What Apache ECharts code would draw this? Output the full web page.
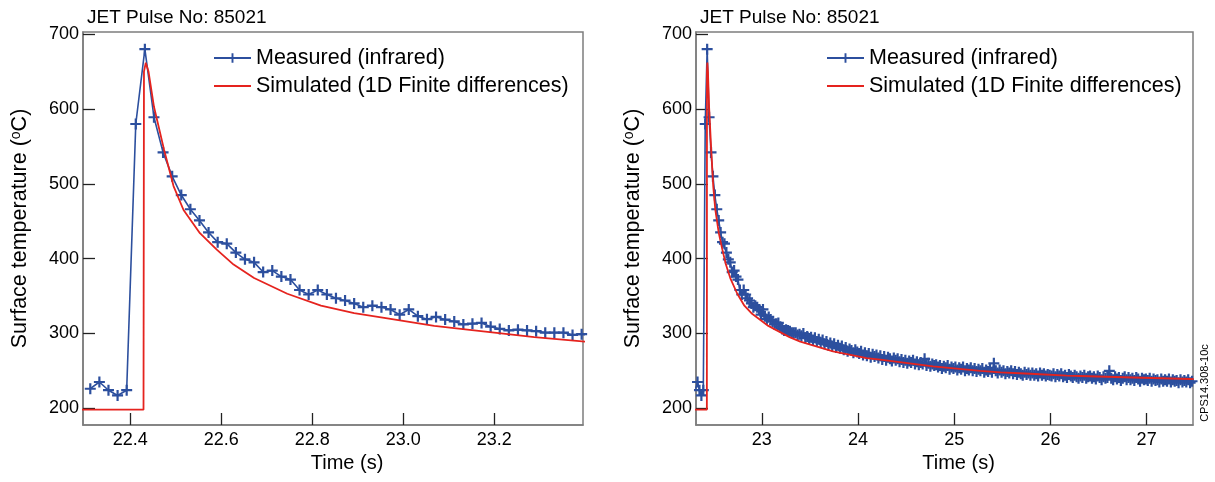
<!DOCTYPE html>
<html>
<head>
<meta charset="utf-8">
<script src="https://cdn.jsdelivr.net/npm/echarts@6/dist/echarts.min.js"></script>
<style>
  html, body { margin: 0; background: #fff; }
  #chart { width: 1215px; height: 482px; }
</style>
</head>
<body>
<div id="chart"></div>
<script>
// infrared samples, one every 20 ms from t0
const t0 = 22.312;
const dt = 0.02;
const measuredTemp = [
  226, 235, 224, 217, 224, 580, 680, 589, 542, 510,
  485, 466, 451, 435, 422, 420, 408, 399, 395, 382,
  384, 376, 372, 358, 352, 358, 352, 347, 344, 340,
  335, 337, 335, 332, 325, 332, 323, 319, 322, 318.5,
  316, 312, 313, 314, 309, 306, 304, 305, 304, 303,
  301, 301, 301, 298, 299,
  // past the left panel, only on the right one
  297, 300, 294, 296, 293, 295, 291, 294, 289, 292,
  288, 291, 286, 289, 284, 287, 283, 286, 281, 284,
  280, 283, 278, 281, 276, 279, 277, 274, 278, 275,
  273, 276, 271, 274, 270, 273, 268, 272, 269, 271,
  267, 270, 265, 269, 264, 268, 266, 263, 267, 264,
  266, 262, 265, 261, 264, 260, 263, 261, 264, 259,
  262, 258, 261, 259, 266, 257, 260, 256, 259, 257,
  258, 255, 257, 253, 256, 254, 257, 252, 255, 253,
  255, 251, 254, 252, 255, 250, 253, 251, 254, 250,
  253, 249, 252, 250, 253, 248, 251, 249, 252, 248,
  260, 250, 247, 251, 248, 250, 246, 249, 247, 250,
  246, 249, 245, 248, 246, 244, 248, 245, 247, 244,
  247, 244, 246, 243, 247, 244, 246, 243, 245, 244,
  243, 246, 242, 245, 243, 246, 242, 244, 241, 245,
  243, 241, 244, 242, 240, 243, 241, 244, 240, 242,
  243, 240, 242, 239, 243, 241, 238, 242, 240, 241,
  250, 240, 238, 242, 239, 241, 237, 240, 242, 238,
  241, 238, 240, 237, 241, 239, 236, 240, 238, 239,
  237, 240, 236, 239, 237, 238, 235, 239, 236, 238,
  236, 239, 235, 238, 236, 237, 234, 238, 235, 237,
  235, 238, 234, 236
];

// 1D finite differences result
const simTime = [22.29, 22.429, 22.430, 22.434, 22.440, 22.452, 22.474, 22.495, 22.517, 22.553,
  22.590, 22.627, 22.672, 22.745, 22.819, 22.892, 22.965, 23.068, 23.141, 23.215,
  23.288, 23.40, 23.74, 24.09, 24.23, 24.78, 25.27, 25.48, 25.79, 26.17,
  26.31, 26.86, 27.45, 27.49];
const simTemp = [198, 198, 650, 662, 650, 603, 546, 497, 465, 434,
  412, 392, 374, 353, 337, 327, 320, 310, 305, 300,
  295, 289, 276, 267, 265, 256, 250, 248, 246, 243.5,
  243, 241, 239, 238.8];

const yTicks = [200, 300, 400, 500, 600, 700];
const xTicksLeft = [22.4, 22.6, 22.8, 23.0, 23.2];
const xTicksRight = [23, 24, 25, 26, 27];

const measuredData = measuredTemp.map((v, i) => [t0 + i * dt, v]);
const simData = simTime.map((t, i) => [t, simTemp[i]]);

const BLUE = '#2c4f9e';
const RED = '#e5231e';
const FONT = 'Liberation Sans';
const CROSS = 'path://M4,0H6V4H10V6H6V10H4V6H0V4H4Z';
const LINE_ICON = 'path://M0,0H37V2H0Z';

function xAxis(gi, min, max, ticks, digits) {
  return {
    type: 'value', gridIndex: gi, min: min, max: max,
    name: 'Time (s)', nameLocation: 'middle', nameGap: 28,
    nameTextStyle: { fontSize: 20, color: '#000', fontFamily: FONT, padding: [0, 0, 0, 28] },
    axisLine: { show: true, lineStyle: { color: '#7d7d7d', width: 1.5 } },
    axisTick: { show: true, inside: true, length: 12, customValues: ticks, lineStyle: { color: '#222', width: 1.3 } },
    axisLabel: { customValues: ticks, margin: 6, fontSize: 18, color: '#000', fontFamily: FONT,
      formatter: v => v.toFixed(digits) },
    splitLine: { show: false }
  };
}

function yAxis(gi) {
  return {
    type: 'value', gridIndex: gi, min: 177.5, max: 703,
    name: 'Surface temperature ({s|o}C)', nameLocation: 'middle', nameGap: 52,
    nameTextStyle: { fontSize: 21.5, color: '#000', fontFamily: FONT,
      rich: { s: { fontSize: 14, color: '#000', fontFamily: FONT, padding: [0, 0, 8, 0] } } },
    axisLine: { show: true, lineStyle: { color: '#7d7d7d', width: 1.5 } },
    axisTick: { show: true, inside: true, length: 12, customValues: yTicks, lineStyle: { color: '#222', width: 1.3 } },
    axisLabel: { customValues: yTicks, margin: 4, fontSize: 18, color: '#000', fontFamily: FONT },
    splitLine: { show: false }
  };
}

function legend(left) {
  return {
    orient: 'vertical', left: left, top: 42, itemWidth: 37, itemHeight: 12, itemGap: 6,
    textStyle: { fontSize: 21.5, color: '#000', fontFamily: FONT },
    data: [
      { name: 'Measured (infrared)' },
      { name: 'Simulated (1D Finite differences)', icon: LINE_ICON }
    ]
  };
}

function measuredSeries(gi) {
  return {
    name: 'Measured (infrared)', type: 'line', xAxisIndex: gi, yAxisIndex: gi,
    data: measuredData, symbol: CROSS, symbolSize: 11, showAllSymbol: true,
    lineStyle: { color: BLUE, width: 1.6 }, itemStyle: { color: BLUE },
    clip: true, z: 2
  };
}

function simSeries(gi) {
  return {
    name: 'Simulated (1D Finite differences)', type: 'line', xAxisIndex: gi, yAxisIndex: gi,
    data: simData, showSymbol: false, symbol: 'none',
    lineStyle: { color: RED, width: 1.8 }, itemStyle: { color: RED },
    clip: true, z: 3
  };
}

const chart = echarts.init(document.getElementById('chart'));
chart.setOption({
  animation: false,
  backgroundColor: '#fff',
  textStyle: { fontFamily: FONT },
  title: [
    { text: 'JET Pulse No: 85021', left: 82, top: 3, textStyle: { fontSize: 19, fontWeight: 'normal', color: '#000', fontFamily: FONT } },
    { text: 'JET Pulse No: 85021', left: 695, top: 3, textStyle: { fontSize: 19, fontWeight: 'normal', color: '#000', fontFamily: FONT } }
  ],
  legend: [legend(208), legend(821)],
  grid: [
    { left: 83, top: 32, width: 500, height: 393, show: true, borderColor: '#7d7d7d', borderWidth: 1.5 },
    { left: 696, top: 32, width: 497, height: 393, show: true, borderColor: '#7d7d7d', borderWidth: 1.5 }
  ],
  xAxis: [
    xAxis(0, 22.296, 23.395, xTicksLeft, 1),
    xAxis(1, 22.316, 27.482, xTicksRight, 0)
  ],
  yAxis: [yAxis(0), yAxis(1)],
  series: [measuredSeries(0), simSeries(0), measuredSeries(1), simSeries(1)],
  graphic: [
    { type: 'text', x: 1205, y: 383, rotation: Math.PI / 2,
      style: { text: 'CPS14.308-10c', fontSize: 11, fill: '#000', fontFamily: FONT, align: 'center', verticalAlign: 'middle' } }
  ]
});
</script>
</body>
</html>
